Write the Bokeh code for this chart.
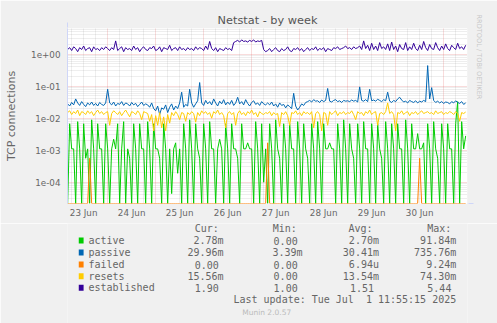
import numpy as np
from bokeh.plotting import figure
from bokeh.layouts import column
from bokeh.models import (Range1d, FixedTicker, CustomJSTickFormatter, Label, Title,
                          Arrow, NormalHead)
from bokeh.embed import file_html
from bokeh.resources import INLINE

# ---------------- DATA ----------------
# hourly samples, hours since 2025-06-23 00:00, first sample at 04:00
START_HOUR = 4

active = [
    0, 0.0067, 0.0011, 0.0011, 0, 0.0078, 0.0011, 0, 0.0067, 0.00056, 0.0011, 0, 0.0089, 0.0011, 0, 0.0067, 0.0011, 0.0011, 0, 0.0067,
    0.0011, 0, 0.0011, 0.0022, 0.0011, 0.0067, 0, 0.0011, 0.0078, 0, 0.0011, 0.00056, 0, 0.0067, 0.0011, 0, 0.0067, 0.0011, 0.0011, 0,
    0.0078, 0.0011, 0, 0.0067, 0.0011, 0.0011, 0.00056, 0, 0.0067, 0.0011, 0, 0.0011, 0.000044, 0.0011, 0.0017, 0.00019, 0.0011, 0, 0.0067, 0.0011,
    0, 0.0089, 0.0011, 0, 0.0067, 0.0011, 0.00056, 0, 0.0067, 0.0011, 0, 0.0078, 0.0011, 0.0011, 0, 0.0011, 0.0022, 0.0011, 0, 0.0067,
    0.0011, 0, 0.0067, 0.0011, 0.0011, 0.00056, 0, 0.0067, 0.0011, 0.0011, 0.0017, 0.0011, 0.0011, 0, 0.0078, 0.0011, 0, 0.0067, 0.0001, 0.0011,
    0, 0.0067, 0.0011, 0, 0.0089, 0.0011, 0.00056, 0, 0.0067, 0.0011, 0, 0.0067, 0.0011, 0.0011, 0, 0.0078, 0.0011, 0, 0.0067, 0.0011,
    0.00056, 0, 0.0067, 0.0011, 0, 0.0078, 0.0011, 0, 0.0067, 0.0011, 0.0011, 0.0017, 0.0011, 0.0011, 0, 0.0067, 0.0011, 0, 0.0089, 0.0011,
    0, 0.0067, 0.0011, 0.00056, 0, 0.0067, 0.0011, 0, 0.0078, 0.0011, 0.0011, 0, 0.0067, 0.0011, 0, 0.0067, 0.0011, 0.00056, 0, 0.0078,
    0.0011, 0, 0.0067, 0.0011, 0, 0.0067, 0.0011, 0.0011, 0, 0.0089, 0.0011, 0, 0.0067, 0.0011, 0.0011, 0.0033, 0.0011, 0.0011, 0.0017, 0,
    0.0067, 0.0011, 0, 0.0078, 0.0011, 0.00056, 0, 0.0067, 0.0011, 0, 0.0067, 0.0011, 0.0011, 0, 0.0067, 0.033, 0, 0.0078, 0.0011, 0.0028,
]

passive = [
    0.028, 0.024, 0.031, 0.026, 0.040, 0.030, 0.025, 0.033, 0.027, 0.023, 0.030, 0.026, 0.032, 0.025, 0.029, 0.024, 0.031, 0.027, 0.025, 0.030,
    0.080, 0.030, 0.026, 0.032, 0.024, 0.029, 0.027, 0.033, 0.025, 0.030, 0.028, 0.024, 0.031, 0.026, 0.029, 0.023, 0.027, 0.032, 0.025, 0.028,
    0.026, 0.022, 0.030, 0.020, 0.017, 0.024, 0.013, 0.021, 0.019, 0.026, 0.015, 0.022, 0.028, 0.018, 0.024, 0.020, 0.030, 0.065, 0.022, 0.027,
    0.024, 0.080, 0.030, 0.022, 0.028, 0.035, 0.130, 0.030, 0.025, 0.036, 0.028, 0.033, 0.026, 0.040, 0.030, 0.024, 0.034, 0.028, 0.038, 0.026,
    0.032, 0.027, 0.036, 0.025, 0.030, 0.045, 0.028, 0.033, 0.026, 0.038, 0.029, 0.024, 0.031, 0.035, 0.027, 0.030, 0.025, 0.033, 0.028, 0.026,
    0.030, 0.026, 0.032, 0.024, 0.028, 0.022, 0.030, 0.025, 0.027, 0.021, 0.026, 0.023, 0.020, 0.060, 0.024, 0.018, 0.022, 0.028, 0.025, 0.031,
    0.033, 0.036, 0.032, 0.038, 0.034, 0.035, 0.031, 0.037, 0.033, 0.036, 0.085, 0.034, 0.032, 0.036, 0.038, 0.033, 0.035, 0.031, 0.036, 0.034,
    0.035, 0.033, 0.037, 0.034, 0.036, 0.032, 0.095, 0.036, 0.034, 0.038, 0.033, 0.080, 0.035, 0.037, 0.034, 0.039, 0.036, 0.033, 0.038, 0.035,
    0.065, 0.034, 0.031, 0.036, 0.033, 0.040, 0.045, 0.037, 0.032, 0.034, 0.030, 0.036, 0.033, 0.031, 0.035, 0.030, 0.034, 0.032, 0.036, 0.033,
    0.440, 0.040, 0.090, 0.036, 0.031, 0.034, 0.030, 0.033, 0.029, 0.032, 0.031, 0.028, 0.033, 0.030, 0.035, 0.031, 0.029, 0.033, 0.027, 0.030,
]

failed = [0.0] * 200
failed[11] = 0.00056
failed[100] = 0.0017
failed[176] = 0.00056

resets = [
    0.015, 0.017, 0.013, 0.016, 0.014, 0.018, 0.012, 0.016, 0.015, 0.013, 0.017, 0.014, 0.016, 0.012, 0.015, 0.018, 0.014, 0.016, 0.013, 0.015,
    0.016, 0.006, 0.014, 0.017, 0.015, 0.013, 0.016, 0.012, 0.015, 0.018, 0.014, 0.011, 0.016, 0.015, 0.013, 0.017, 0.014, 0.009, 0.016, 0.015,
    0.014, 0.008, 0.013, 0.004, 0.012, 0.006, 0.015, 0.005, 0.011, 0.004, 0.013, 0.007, 0.015, 0.012, 0.016, 0.013, 0.009, 0.015, 0.014, 0.008,
    0.015, 0.013, 0.016, 0.014, 0.0075, 0.015, 0.012, 0.017, 0.014, 0.016, 0.013, 0.015, 0.010, 0.016, 0.014, 0.018, 0.013, 0.015, 0.012, 0.005,
    0.014, 0.016, 0.013, 0.015, 0.006, 0.014, 0.017, 0.013, 0.015, 0.012, 0.016, 0.014, 0.018, 0.013, 0.015, 0.011, 0.016, 0.014, 0.013, 0.015,
    0.014, 0.016, 0.012, 0.015, 0.013, 0.014, 0.0055, 0.015, 0.013, 0.016, 0.012, 0.006, 0.015, 0.014, 0.017, 0.013, 0.015, 0.012, 0.016, 0.014,
    0.015, 0.013, 0.016, 0.005, 0.014, 0.016, 0.013, 0.004, 0.015, 0.014, 0.006, 0.016, 0.013, 0.015, 0.017, 0.012, 0.015, 0.014, 0.016, 0.013,
    0.015, 0.014, 0.017, 0.013, 0.009, 0.016, 0.014, 0.015, 0.012, 0.016, 0.014, 0.018, 0.013, 0.015, 0.016, 0.006, 0.014, 0.015, 0.013, 0.016,
    0.030, 0.014, 0.016, 0.013, 0.004, 0.015, 0.014, 0.017, 0.013, 0.015, 0.016, 0.012, 0.015, 0.014, 0.016, 0.013, 0.015, 0.017, 0.014, 0.015,
    0.016, 0.014, 0.015, 0.013, 0.017, 0.014, 0.015, 0.016, 0.013, 0.015, 0.014, 0.016, 0.015, 0.013, 0.016, 0.014, 0.008, 0.015, 0.014, 0.0156,
]

established = [
    1.4, 1.6, 1.3, 1.7, 1.5, 1.2, 1.6, 1.4, 1.8, 1.3, 1.5, 1.6, 1.2, 1.7, 1.4, 1.5, 1.3, 1.6, 1.4, 1.7,
    1.5, 1.3, 1.6, 1.4, 2.6, 1.3, 1.5, 1.7, 1.2, 1.6, 1.4, 1.5, 1.3, 1.8, 1.4, 1.6, 1.2, 1.5, 1.7, 1.4,
    1.3, 1.6, 1.5, 1.8, 1.3, 1.4, 1.7, 1.2, 1.6, 1.5, 1.4, 1.9, 1.3, 1.5, 1.6, 1.3, 1.7, 1.4, 1.5, 1.3,
    1.6, 1.4, 1.5, 1.3, 1.7, 1.4, 1.6, 1.5, 1.3, 1.8, 1.4, 2.5, 1.5, 1.3, 1.6, 1.2, 1.5, 1.4, 1.3, 1.6,
    1.4, 1.5, 1.3, 2.3, 2.5, 2.7, 2.4, 2.8, 2.5, 2.6, 2.4, 2.7, 2.5, 2.8, 2.4, 2.6, 2.5, 2.7, 1.4, 1.2,
    1.3, 1.5, 1.2, 1.4, 1.6, 1.3, 1.2, 1.5, 1.3, 1.4, 1.7, 1.3, 1.2, 1.5, 1.4, 1.6, 1.3, 1.5, 1.2, 1.4,
    1.6, 1.3, 1.5, 1.4, 1.7, 1.3, 1.5, 1.4, 1.6, 1.2, 1.5, 1.4, 1.3, 1.6, 1.5, 1.7, 1.4, 1.5, 1.6, 1.8,
    1.5, 1.6, 1.4, 1.7, 1.5, 1.6, 1.8, 1.4, 2.6, 1.5, 1.9, 1.3, 2.2, 1.4, 1.8, 1.3, 2.3, 1.5, 1.7, 1.4,
    2.1, 1.3, 2.4, 1.4, 1.8, 1.2, 2.0, 1.5, 1.4, 2.3, 1.3, 1.7, 1.4, 2.2, 1.5, 1.3, 1.9, 1.4, 2.5, 1.6,
    1.3, 2.0, 1.5, 1.4, 2.3, 1.6, 1.3, 1.8, 1.4, 2.1, 1.5, 1.3, 1.9, 1.6, 1.4, 2.2, 1.5, 1.7, 1.4, 1.9,
]

series_names = ["active", "passive", "failed", "resets", "established"]
series_colors = ["#00CC00", "#0066B3", "#FF8000", "#FFCC00", "#330099"]
cur_text = ["2.78m", "29.96m", "0.00", "15.56m", "1.90"]
min_text = ["0.00", "3.39m", "0.00", "0.00", "1.00"]
avg_text = ["2.70m", "30.41m", "6.94u", "13.54m", "1.51"]
max_text = ["91.84m", "735.76m", "9.24m", "74.30m", "5.44"]

day_ticks = [12, 36, 60, 84, 108, 132, 156, 180]   # noon of each day
day_labels = ["23 Jun", "24 Jun", "25 Jun", "26 Jun", "27 Jun", "28 Jun", "29 Jun", "30 Jun"]
midnights = [24, 48, 72, 96, 120, 144, 168, 192]
x_start, x_end = 3.92, 203.92          # 2025-06-23 03:55 .. 2025-07-01 11:55
y_lo, y_hi = 2.16e-5, 6.35

# ---------------- CHART FIGURE ----------------
FONT = "#666666"
BG = "#F0F0F0"
HA = 223
p = figure(width=497, height=HA, y_axis_type="log",
           x_range=Range1d(x_start, x_end), y_range=Range1d(y_lo, y_hi),
           output_backend="svg", toolbar_location=None,
           min_border_left=67, min_border_right=30, min_border_top=28, min_border_bottom=HA - 203,
           background_fill_color="#FFFFFF", border_fill_color=BG)
p.outline_line_color = None

p.title.text = "Netstat - by week"
p.title.text_font = "DejaVu Sans"
p.title.text_font_size = "11.3px"
p.title.text_font_style = "normal"
p.title.text_color = "#555555"
p.title.align = "center"
p.title.offset = -19
p.title.standoff = 3

wm = Title(text="RRDTOOL / TOBI OETIKER", text_font="DejaVu Sans", text_font_size="6.6px",
           text_font_style="normal", text_color="#C8C8C8", align="left", standoff=14, offset=-14)
p.add_layout(wm, "right")

# grids
six_h = [h for h in range(0, 205, 6) if h % 24 != 0]
p.xgrid.ticker = FixedTicker(ticks=midnights, minor_ticks=six_h)
dec = [1e-4, 1e-3, 1e-2, 1e-1, 1.0]
minor_y = [m * 10.0 ** k for k in range(-5, 1) for m in range(2, 10)]
p.ygrid.ticker = FixedTicker(ticks=dec, minor_ticks=minor_y)
for g in (p.xgrid, p.ygrid):
    g.grid_line_color = "#E05050"
    g.grid_line_alpha = 0.4
    g.grid_line_dash = "1 1"
    g.minor_grid_line_color = "#8F8F8F"
    g.minor_grid_line_alpha = 0.3
    g.minor_grid_line_dash = "1 1"

# axes
xa = p.xaxis[0]
xa.ticker = FixedTicker(ticks=day_ticks)
xa.major_label_overrides = {t: l for t, l in zip(day_ticks, day_labels)}
xa.major_tick_out = 0
xa.major_tick_in = 0
xa.minor_tick_out = 0
xa.minor_tick_in = 0
xa.axis_line_color = None
xa.major_label_standoff = 4
xa.major_label_text_font = "DejaVu Sans"
xa.major_label_text_font_size = "8.75px"
xa.major_label_text_color = FONT

ya = p.yaxis[0]
ya.ticker = FixedTicker(ticks=dec)
ya.formatter = CustomJSTickFormatter(code="""
const e = Math.round(Math.log10(tick));
const a = Math.abs(e);
return "1e" + (e < 0 ? "-" : "+") + (a < 10 ? "0" + a : "" + a);
""")
ya.major_tick_out = 0
ya.major_tick_in = 0
ya.minor_tick_out = 0
ya.minor_tick_in = 0
ya.axis_line_color = "#CFD6F8"
ya.major_label_standoff = 7
ya.major_label_text_font = "DejaVu Sans"
ya.major_label_text_font_size = "8.75px"
ya.major_label_text_color = FONT
ya.axis_label = "TCP connections"
ya.axis_label_text_font = "DejaVu Sans"
ya.axis_label_text_font_size = "11px"
ya.axis_label_text_font_style = "normal"
ya.axis_label_text_color = FONT
ya.axis_label_standoff = 10

# series (values below the axis floor are drawn at the floor, as rrdtool does)
xs = START_HOUR + np.arange(len(established))
for data, col in zip([active, passive, failed, resets, established], series_colors):
    yv = np.clip(np.asarray(data, dtype=float), y_lo, None)
    p.line(xs, yv, line_color=col, line_width=1)

# axis arrows
p.add_layout(Arrow(end=NormalHead(size=5, fill_color="#CFD6F8", line_color="#CFD6F8"),
                   x_start=0, y_start=175, x_end=0, y_end=181,
                   start_units="screen", end_units="screen", line_color="#CFD6F8"))
p.add_layout(Arrow(end=NormalHead(size=5, fill_color="#CFD6F8", line_color="#CFD6F8"),
                   x_start=400, y_start=0, x_end=406, y_end=0,
                   start_units="screen", end_units="screen", line_color="#CFD6F8"))

# ---------------- LEGEND FIGURE (canvas-pixel coordinates) ----------------
HB = 323 - HA
q = figure(width=497, height=HB, x_range=Range1d(0, 497), y_range=Range1d(323, HA),
           output_backend="svg", toolbar_location=None,
           x_axis_location=None, y_axis_location=None,
           min_border_left=0, min_border_right=0, min_border_top=0, min_border_bottom=0,
           background_fill_color=BG, border_fill_color=BG)
q.outline_line_color = None
q.xgrid.visible = False
q.ygrid.visible = False


def lab(text, cx, cy, size="10px", font="DejaVu Sans Mono", align="left", color=FONT):
    q.add_layout(Label(x=cx, y=cy, text=text, text_font=font, text_font_size=size,
                       text_color=color, text_align=align, text_baseline="middle"))


row_y = [240, 252, 264, 275.7, 287.3]
lab("Cur:", 158, 228)
lab("Min:", 255, 228)
lab("Avg:", 349, 228)
lab("Max:", 447, 228)
col_right = [194, 292, 387, 483]
q.rect(x=[17] * 5, y=row_y, width=6, height=6, fill_color=series_colors, line_color=None)
for i, name in enumerate(series_names):
    y = row_y[i]
    lab(name, 26, y)
    for txts, r in zip([cur_text, min_text, avg_text, max_text], col_right):
        t = txts[i]
        rr = r if t[-1].isalpha() else r - 6
        lab(t, rr, y, align="right")

lab("Last update: Tue Jul \u00a01 11:55:15 2025", 483, 299, align="right")
lab("Munin 2.0.57", 247.5, 312, size="7.5px", font="DejaVu Sans", align="center", color="#BBBBBB")

layout = column(p, q, spacing=0)
open("out.html", "w").write(file_html(layout, INLINE))
